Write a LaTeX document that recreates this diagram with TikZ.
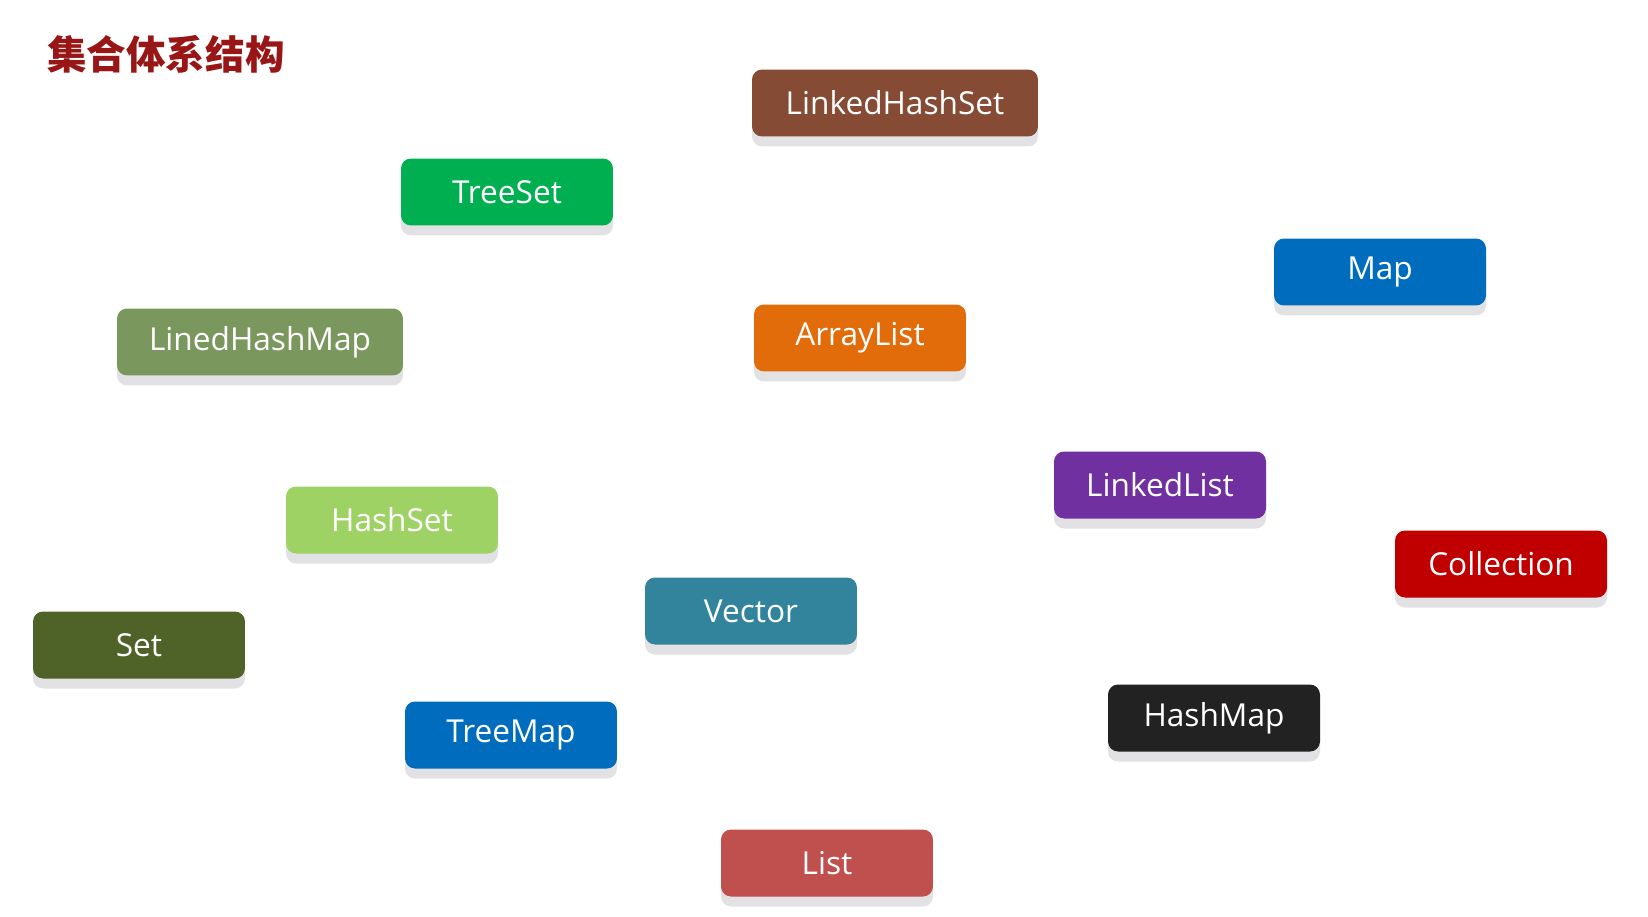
\documentclass[tikz,border=0pt]{standalone}
\usepackage{fontspec}
\setmainfont{Open Sans}
\newfontfamily\cjk{Noto Sans CJK SC}
\usetikzlibrary{shadows}
\definecolor{titlered}{RGB}{152,22,22}
\definecolor{brown}{RGB}{133,75,52}
\definecolor{green}{RGB}{0,176,80}
\definecolor{blue}{RGB}{0,108,190}
\definecolor{olive}{RGB}{122,152,94}
\definecolor{orange}{RGB}{227,108,10}
\definecolor{purple}{RGB}{112,48,160}
\definecolor{lightgreen}{RGB}{158,210,100}
\definecolor{red}{RGB}{192,0,0}
\definecolor{teal}{RGB}{49,132,155}
\definecolor{darkolive}{RGB}{79,98,40}
\definecolor{black}{RGB}{34,34,34}
\definecolor{rose}{RGB}{192,80,77}
\definecolor{shadowgray}{RGB}{226,226,228}
\begin{document}
\begin{tikzpicture}[x=0.02cm, y=-0.02cm, box/.style = {rectangle, rounded corners=0.2cm, minimum width=4.24cm, minimum height=1.34cm, text=white, font=\fontsize{18}{22}\selectfont, drop shadow={shadow xshift=0cm, shadow yshift=-0.2cm, fill=shadowgray, opacity=1}}, wide/.style = {minimum width=5.72cm}]
  \useasboundingbox (0, 0) rectangle (1648, 916);
  \node[anchor=west, inner sep=0, text=titlered, font=\cjk\bfseries\fontsize{22.5}{26}\selectfont] at (47, 54) (title) {集合体系结构};
  \node[box, wide, fill=brown] at (895, 103) (linkedhashset) {LinkedHashSet};
  \node[box, fill=green] at (507, 192) (treeset) {TreeSet};
  \node[box, fill=blue] at (1380, 272) (map) {Map};
  \node[box, wide, fill=olive] at (260, 342) (linedhashmap) {LinedHashMap};
  \node[box, fill=orange] at (860, 338) (arraylist) {ArrayList};
  \node[box, fill=purple] at (1160, 485) (linkedlist) {LinkedList};
  \node[box, fill=lightgreen] at (392, 520) (hashset) {HashSet};
  \node[box, fill=red] at (1501, 564) (collection) {Collection};
  \node[box, fill=teal] at (751, 611) (vector) {Vector};
  \node[box, fill=darkolive] at (139, 645) (set) {Set};
  \node[box, fill=black] at (1214, 718) (hashmap) {HashMap};
  \node[box, fill=blue] at (511, 735) (treemap) {TreeMap};
  \node[box, fill=rose] at (827, 863) (list) {List};
\end{tikzpicture}
\end{document}
